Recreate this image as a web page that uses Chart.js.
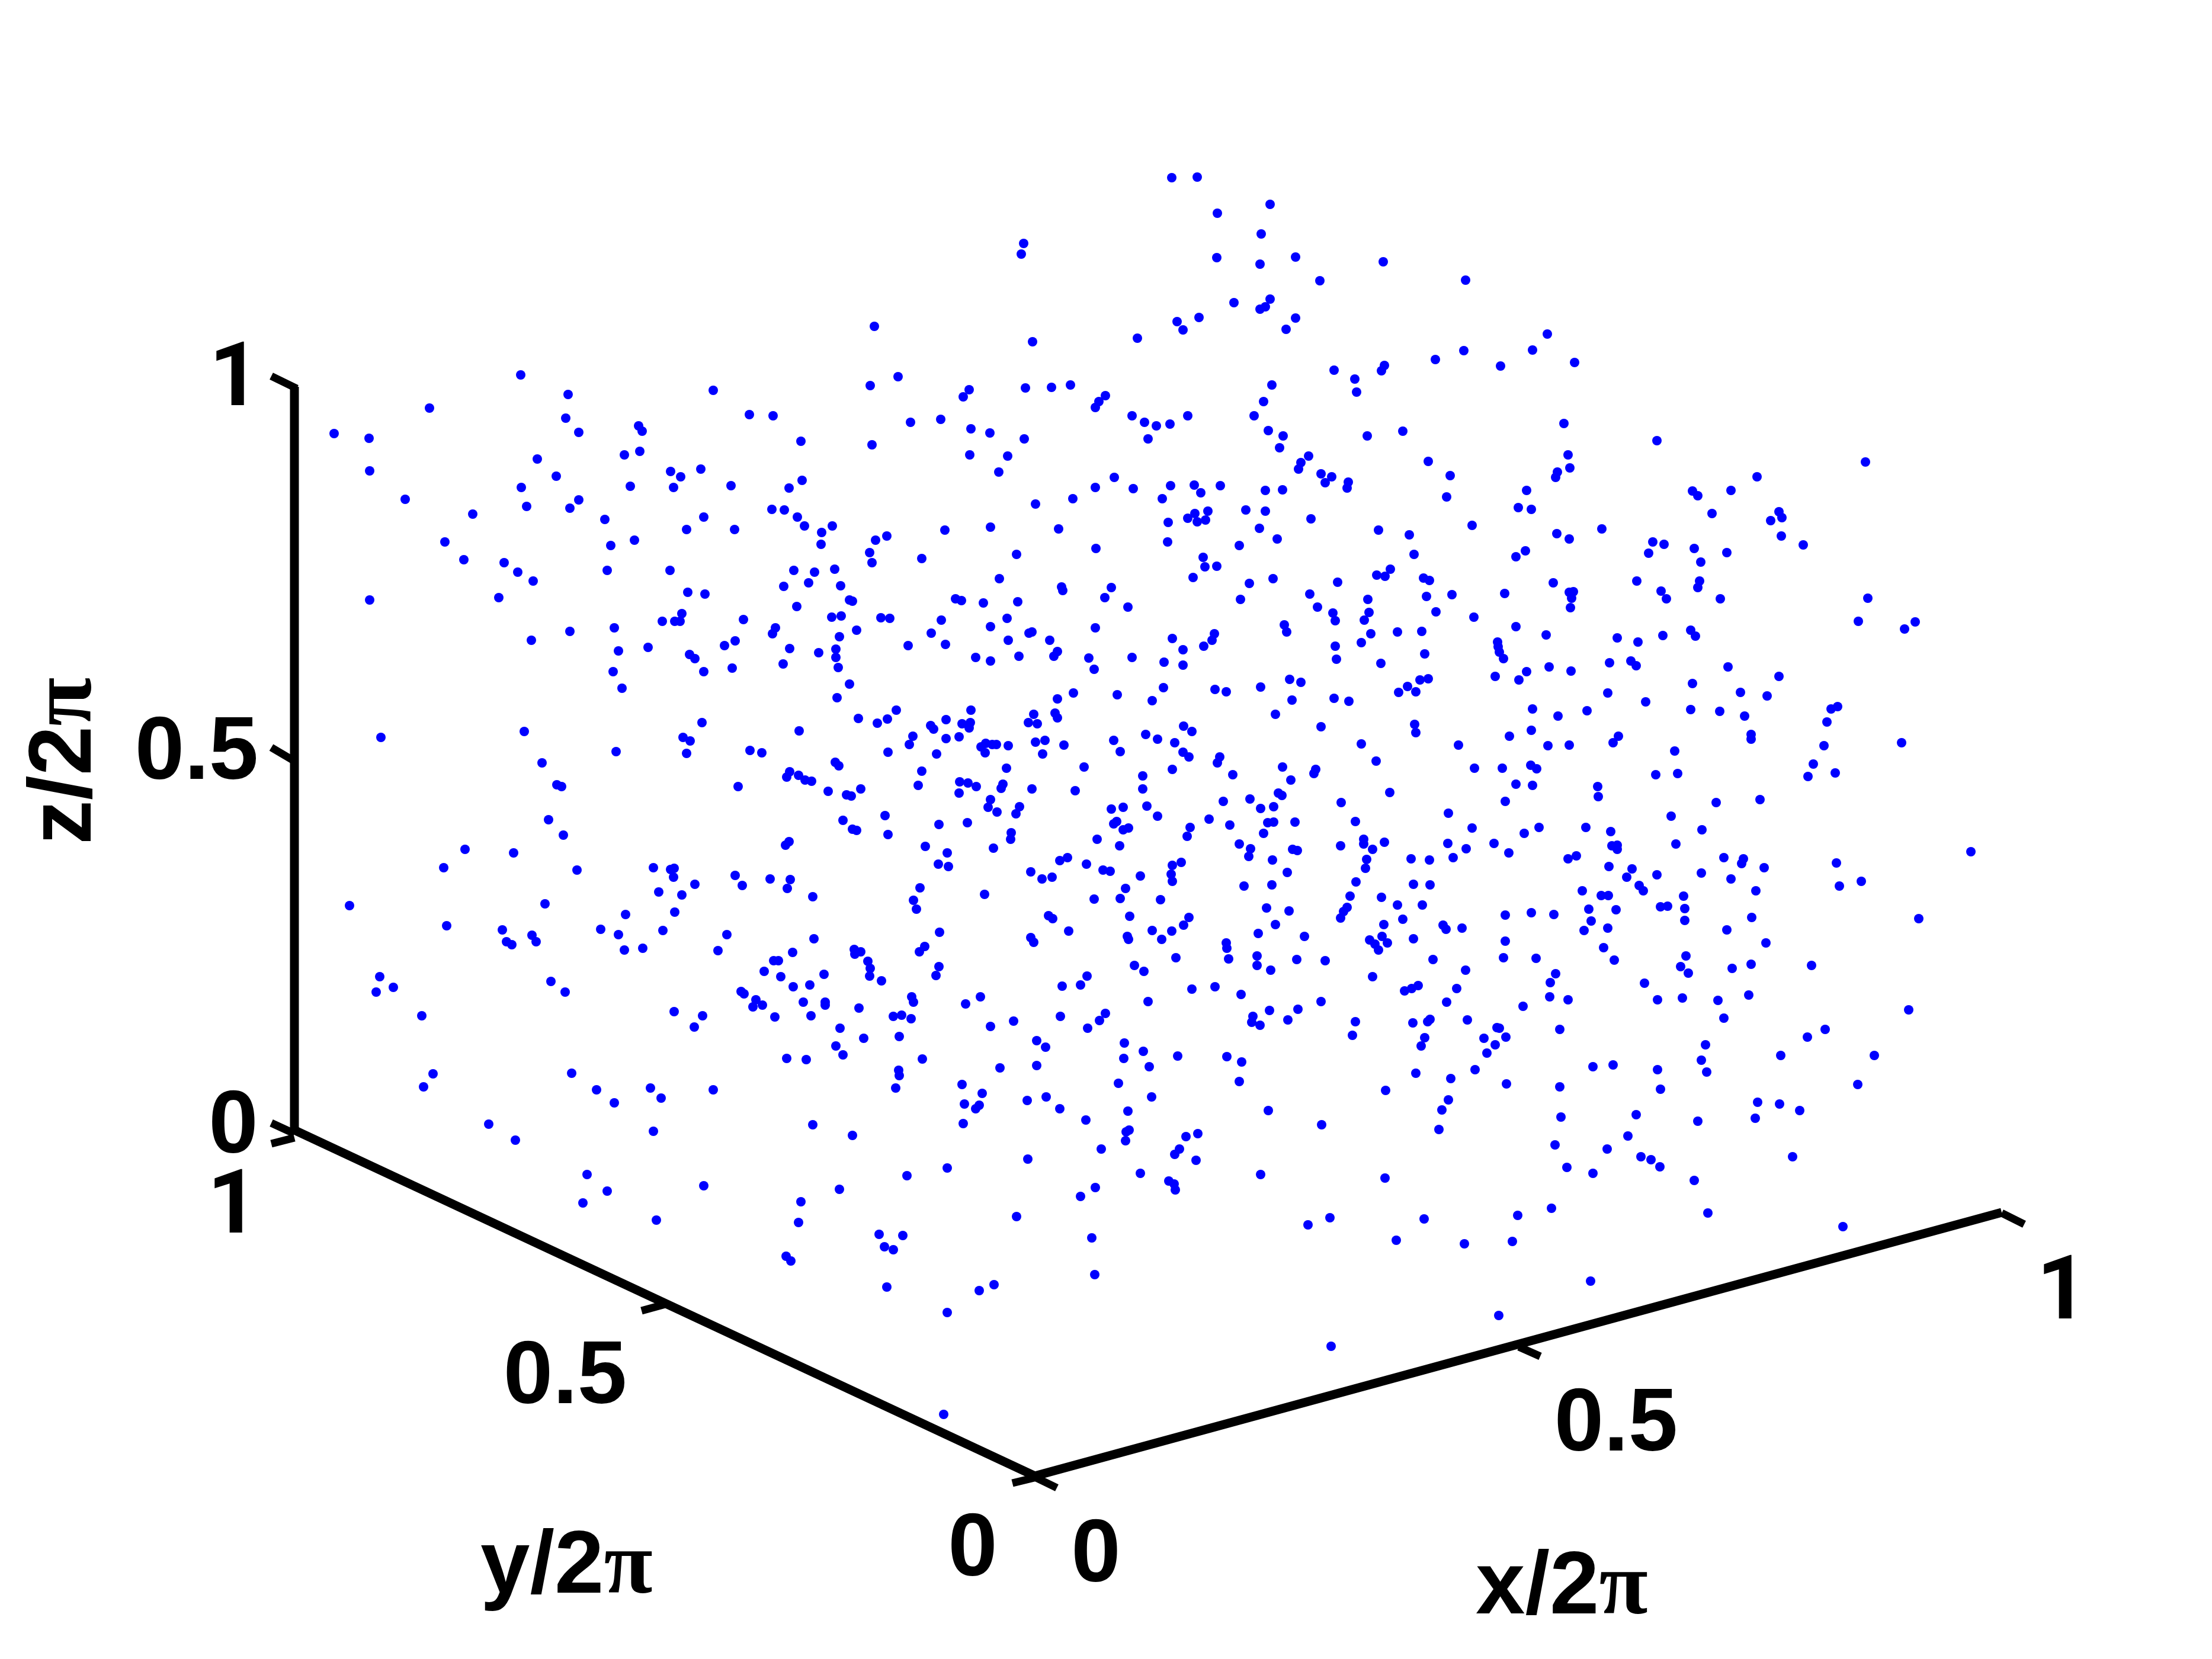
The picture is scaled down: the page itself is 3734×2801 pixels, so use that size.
<!DOCTYPE html>
<html>
<head>
<meta charset="utf-8">
<style>
  html, body { margin: 0; padding: 0; background: #fff; }
  canvas { display: block; }
</style>
<script src="https://cdn.jsdelivr.net/npm/chart.js@4"></script>
</head>
<body>
<canvas id="grafico" width="3734" height="2801"></canvas>
<script>
// Coordenadas de vista da projecao 3D, por regiao
const leftUpper = [[879,633],[959,666],[725,689],[1204,659],[1265,700],[564,732],[623,740],[955,706],[977,730],[1078,719],[1084,728],[907,775],[1054,768],[1080,762],[624,795],[1132,796],[1183,792],[939,804],[1149,805],[880,823],[1064,821],[1137,823],[1234,820],[684,843],[889,855],[977,844],[962,858],[798,868],[1021,877],[1188,873],[1159,894],[1240,894],[751,915],[1071,912],[1031,921],[783,945],[851,950],[874,966],[900,981],[1025,963],[1131,963],[624,1013],[842,1009],[1161,1000],[1190,1003],[1151,1036],[1118,1049],[1139,1049],[1148,1049],[1255,1046],[1037,1060],[962,1066],[897,1081],[1044,1099],[1094,1093],[1164,1105],[1173,1112],[1035,1134],[1188,1134],[1050,1162],[1185,1220],[885,1235],[643,1245],[1153,1245],[1165,1251],[1040,1269],[1159,1272],[915,1288]];

const leftLower = [[940,1325],[948,1328],[926,1384],[951,1410],[785,1434],[867,1440],[749,1465],[974,1469],[1103,1465],[1132,1468],[1138,1466],[1137,1481],[1173,1493],[1112,1506],[1151,1511],[590,1529],[920,1526],[1056,1544],[1139,1540],[754,1563],[848,1570],[898,1579],[905,1590],[855,1590],[864,1595],[1014,1569],[1044,1578],[1119,1571],[1054,1604],[1085,1601],[641,1649],[664,1667],[635,1675],[930,1657],[954,1675],[712,1715],[1138,1708],[1186,1715],[1172,1734],[731,1813],[715,1835],[965,1812],[1007,1840],[1098,1837],[1116,1854],[1037,1862],[825,1898],[870,1925],[1103,1910],[991,1983],[1025,2011],[984,2031],[1188,2002],[1108,2060]];

const midTop = [[1978,300],[2021,299],[2144,345],[2055,360],[2129,395],[1728,411],[1724,429],[2054,435],[2187,434],[2127,446],[2335,442],[2228,474],[2474,473],[2144,505],[2083,511],[2136,518],[2127,522],[2024,536],[2187,537],[1987,543],[1997,557],[2171,556],[1476,551],[1743,577],[1920,571],[2471,592],[2423,607],[2337,617],[2332,626],[2252,625],[2287,640],[1516,636],[1469,651],[2147,650],[1636,658],[1626,670],[1731,655],[1775,654],[1807,650],[1866,668],[1855,678],[1849,688],[2290,662],[2133,678],[1305,702],[1537,713],[1588,708],[1911,702],[1932,713],[1952,719],[1975,716],[2005,702],[2117,702],[1639,724],[1671,731],[2141,727],[2166,736],[2368,728],[2308,736],[1352,745],[1472,751],[1729,741],[1938,741],[2160,756],[1637,768],[1701,770],[2209,770],[2411,779],[2196,781],[2192,792],[1686,797],[2230,800],[2248,805],[2448,803],[1881,806],[1354,811],[2237,815],[2276,814],[2274,824],[1332,824],[1849,823],[1913,825],[1976,820],[2016,819],[2060,820],[2027,832],[2136,828],[2165,827],[2442,839],[1962,842],[1811,842],[1748,851],[1303,860],[1324,861],[2103,861],[2039,863],[2136,863],[2017,867],[1346,873],[2005,875],[2213,876],[1972,882],[2021,881],[2035,878],[1358,888],[1405,888],[1672,890],[1595,895],[1787,893],[2126,892],[2327,895],[2485,887],[1387,899],[1497,905],[1478,912],[2156,910],[2379,903],[1386,919],[1971,915],[2092,921],[1468,933],[1850,926],[1716,936],[2387,936],[1556,943],[1472,950],[2031,941],[2034,957],[2054,956],[1340,963],[1375,966],[1409,961],[2347,961],[2324,971],[2338,973],[2403,976],[2413,980],[2014,975],[1687,977],[1323,990],[1365,984],[1419,989],[2109,985],[2149,977],[2258,983],[1792,991],[1794,997],[1876,992],[2211,1003],[2408,1007],[2451,1004],[1865,1009],[2094,1012],[2309,1012],[1434,1013],[1439,1015],[1613,1011],[1623,1014],[1660,1018],[1718,1016],[1345,1024],[1904,1025],[2224,1025],[2250,1035],[2311,1034],[2424,1033],[1404,1042],[1420,1040],[1487,1043],[1502,1044],[1589,1047],[1700,1044],[2488,1042],[2254,1048],[2303,1047]];

const midCentre = [[1309,1060],[1304,1070],[1241,1082],[1223,1090],[1333,1095],[1236,1128],[1322,1121],[1417,1075],[1446,1064],[1411,1096],[1382,1102],[1411,1110],[1415,1127],[1533,1090],[1572,1069],[1596,1088],[1672,1058],[1702,1081],[1737,1069],[1742,1067],[1772,1081],[1647,1110],[1672,1116],[1720,1108],[1785,1100],[1779,1108],[1849,1060],[1838,1111],[1847,1130],[1911,1110],[1979,1078],[1997,1097],[1965,1118],[1997,1123],[2032,1091],[2046,1081],[2050,1070],[2168,1055],[2172,1067],[2254,1091],[2314,1070],[2298,1085],[2359,1067],[2400,1066],[2256,1113],[2331,1120],[2405,1104],[2177,1147],[2196,1152],[2128,1160],[2051,1164],[2070,1168],[1964,1161],[1886,1173],[1945,1183],[1812,1170],[1785,1180],[1434,1155],[1413,1178],[2181,1182],[2252,1179],[2277,1184],[2361,1169],[2376,1159],[2390,1168],[2397,1148],[2411,1146],[2153,1206],[1513,1199],[1449,1213],[1481,1221],[1498,1214],[1639,1199],[1597,1215],[1571,1225],[1576,1231],[1624,1222],[1638,1220],[1636,1229],[1745,1206],[1736,1220],[1751,1222],[1781,1204],[1785,1212],[1349,1234],[1541,1243],[1535,1257],[1597,1247],[1619,1244],[1998,1226],[2012,1235],[1934,1240],[1954,1248],[1880,1250],[1983,1254],[2230,1227],[2388,1223],[2390,1237],[2298,1256],[2462,1258],[1266,1267],[1286,1271],[1499,1270],[1581,1273],[1656,1261],[1664,1255],[1663,1271],[1675,1257],[1682,1257],[1702,1259],[1748,1253],[1764,1250],[1796,1258],[1760,1273],[1891,1269],[1997,1270],[2007,1278],[2059,1278],[2055,1288],[2323,1285],[1410,1287],[1416,1293],[1699,1297],[1830,1295],[1979,1299],[2165,1295],[2221,1299],[2218,1306],[2489,1297],[1333,1303],[1328,1312],[1348,1309],[1359,1317],[1370,1319],[1556,1302],[1929,1310],[2081,1308],[2179,1317],[1246,1328],[1398,1336],[1453,1332],[1429,1342],[1437,1344],[1550,1326],[1620,1320],[1634,1322],[1648,1328],[1693,1324],[1690,1331],[1742,1332],[1815,1335],[1929,1332],[1619,1339],[2158,1339],[2164,1343],[2346,1338],[1672,1350],[2065,1353],[2110,1349],[2264,1355],[1668,1363],[1721,1362],[1683,1371],[1715,1374],[1876,1366],[1896,1363],[1936,1361],[2128,1365],[2150,1362],[1494,1377],[1954,1378],[2445,1373],[1423,1385],[1585,1392],[1633,1389],[1885,1387],[1880,1391],[2041,1383],[2076,1393],[2140,1389],[2150,1388],[2186,1388],[2288,1387],[1439,1400],[1446,1402],[1896,1401],[1905,1398],[2009,1397],[2133,1407],[2485,1398],[1499,1409],[1707,1406],[1706,1417],[2004,1412],[1852,1417],[1332,1421],[1326,1427],[1562,1429],[1890,1428],[2092,1425],[2302,1417],[2302,1425],[2337,1422],[2444,1424],[1677,1432],[2111,1433],[2182,1434],[2190,1436],[2263,1428],[2317,1434],[2475,1433],[1599,1440],[1802,1448],[1789,1453],[2108,1446],[2148,1452],[2307,1451],[2382,1450],[2413,1452],[2453,1448],[1584,1459],[1601,1463],[1834,1459],[1862,1469],[1874,1471],[1979,1461],[1994,1456],[2305,1466],[1241,1478],[1300,1484],[1334,1485],[1740,1472],[1759,1484],[1776,1481],[1925,1479],[1977,1476],[2173,1473],[1253,1495],[1979,1488],[2147,1494],[2100,1496],[2289,1489],[2386,1493],[2414,1494],[1329,1500],[1553,1499],[1900,1500],[1662,1510],[1372,1514],[1542,1520],[1847,1518],[1891,1517],[1959,1519],[2279,1513],[2332,1515],[2359,1528],[2401,1528],[1547,1535],[2138,1533],[2176,1538],[2274,1532],[2268,1539],[1770,1546],[1777,1551],[1907,1547],[2007,1549],[2263,1550],[2368,1552],[1998,1562],[2153,1561],[2336,1561],[2436,1562],[2441,1569],[2468,1567],[1804,1572],[1945,1571],[1978,1572],[1227,1578],[1586,1574],[2124,1576],[2202,1581],[2333,1581],[1740,1583],[1745,1591],[1903,1581],[1905,1586],[1961,1586],[2386,1585],[1374,1585],[2070,1592],[2071,1601],[2312,1587],[2321,1594],[2342,1592],[2327,1604],[1212,1605],[1338,1608],[1442,1603],[1443,1611],[1453,1607],[1561,1598],[1552,1607],[1985,1617],[2074,1619],[2122,1614],[2189,1620],[2237,1622],[2419,1620],[1306,1622],[1314,1622],[1465,1623],[1469,1635],[1915,1630],[1585,1632],[2122,1630],[1290,1640],[1931,1640],[2145,1638],[2474,1638],[1318,1649],[1391,1645],[1468,1648],[1580,1647],[1835,1648],[2317,1649],[1488,1656],[1339,1666],[1367,1663],[1793,1665],[1824,1663],[2012,1670],[2051,1666],[2394,1664],[2383,1669],[2371,1673],[2459,1669],[1251,1674],[1256,1678],[2095,1679],[1539,1683],[1655,1683],[1276,1688],[1356,1692],[1393,1692],[1542,1692],[1938,1691],[2230,1691],[2442,1692],[1393,1697],[1287,1697],[1271,1700],[1630,1695],[1450,1702],[2143,1706],[2191,1704],[1308,1717],[1369,1715],[1508,1716],[1522,1714],[1538,1720],[1790,1716],[1866,1711],[2115,1716],[2414,1721],[2477,1722],[1711,1724],[1856,1723],[2113,1726],[2174,1722],[2288,1725],[2385,1727],[2410,1725],[2127,1731],[1672,1733],[1418,1736],[1836,1736],[2283,1748],[1518,1750],[1458,1753],[2405,1752],[1750,1757],[1898,1761],[1411,1766],[2399,1766],[1765,1768],[1930,1775],[1423,1781],[1988,1783],[2071,1784],[1328,1787],[1361,1789],[1557,1788],[1897,1787],[2096,1793],[1750,1799],[1940,1801],[1517,1807],[1688,1803],[2490,1806],[1518,1816],[2390,1812],[2449,1821],[1624,1831],[1888,1829],[2092,1826],[1512,1837],[2339,1841],[1204,1840],[1658,1846]];

const midBottom = [[1372,1899],[1439,1917],[1628,1864],[1653,1866],[1647,1872],[1734,1858],[1766,1852],[1789,1872],[1626,1897],[1833,1891],[1904,1876],[1944,1852],[2141,1875],[2231,1899],[2434,1874],[2445,1857],[2429,1907],[1906,1908],[1901,1911],[1900,1926],[2002,1919],[2022,1914],[1859,1940],[1991,1940],[1983,1949],[2019,1959],[1735,1957],[1599,1972],[1531,1985],[1925,1981],[2128,1983],[2338,1989],[1973,1994],[1982,1999],[1984,2009],[1849,2005],[1824,2020],[1417,2008],[1352,2029],[1716,2054],[1348,2064],[2245,2056],[2208,2068],[2404,2058],[1484,2084],[1524,2086],[1843,2090],[2357,2094],[2472,2100],[1493,2105],[1508,2110],[1327,2121],[1335,2129],[1848,2152],[1497,2173],[1678,2169],[1653,2179],[1599,2216],[2247,2273],[1593,2388]];

const rightTop = [[2612,564],[2587,591],[2533,618],[2658,612],[2640,715],[2797,744],[2647,768],[2650,790],[3149,780],[2629,797],[2626,806],[2966,805],[2577,828],[2857,829],[2866,837],[2922,828],[2563,857],[2585,860],[2890,867],[3003,864],[3008,874],[2989,879],[2704,893],[2628,901],[2649,910],[3007,905],[3044,920],[2790,915],[2809,919],[2860,926],[2915,933],[2783,934],[2575,930],[2559,940],[2871,949],[2622,984],[2763,981],[2869,981],[2866,992],[2540,1002],[2649,1000],[2656,999],[2804,998],[2653,1010],[2813,1011],[2904,1011],[3153,1010],[2651,1026],[3137,1049],[3233,1050],[3215,1062],[2559,1058],[2610,1072],[2854,1064],[2862,1074],[2807,1073],[2730,1077],[2765,1084],[2528,1084],[2529,1092],[2531,1101],[2538,1112],[2717,1119],[2753,1116],[2762,1124],[2917,1126],[2615,1126],[2652,1133],[2577,1134],[2524,1142],[2564,1148],[3003,1142],[2857,1154],[2714,1170],[2938,1169],[2983,1175],[2778,1185],[3102,1193],[3091,1197],[2587,1197],[2854,1198],[2903,1201],[2679,1200],[2630,1209],[2945,1209],[3084,1219],[2585,1233],[2956,1240],[2956,1248],[2548,1243],[2732,1243],[2723,1254],[2613,1259],[2649,1258],[3079,1259],[3210,1254],[2827,1268],[3061,1290],[2536,1297],[2584,1292],[2594,1298]];

const rightMid = [[2795,1308],[2832,1306],[3052,1311],[3098,1305],[2559,1324],[2587,1326],[2697,1328],[2698,1345],[2971,1350],[2897,1355],[2541,1353],[2821,1378],[2598,1397],[2677,1397],[2573,1407],[2719,1404],[2873,1401],[2522,1424],[2829,1425],[2721,1428],[2730,1427],[2730,1434],[2547,1440],[3327,1438],[2661,1445],[2647,1450],[2910,1448],[2943,1450],[2940,1458],[3100,1457],[2716,1463],[2755,1467],[2978,1465],[2797,1477],[2872,1474],[2746,1481],[2922,1484],[3142,1488],[2767,1495],[3105,1496],[2774,1504],[2671,1504],[2964,1504],[2703,1512],[2715,1512],[2842,1513],[2803,1531],[2815,1530],[2844,1534],[2682,1535],[2728,1536],[2541,1545],[2585,1541],[2623,1544],[2957,1549],[3239,1551],[2686,1555],[2844,1554],[2714,1567],[2674,1571],[2915,1570],[2541,1589],[2981,1592],[2707,1600],[2846,1614],[2538,1617],[2593,1618],[2725,1621],[2956,1628],[3058,1630],[2837,1632],[2924,1635],[2850,1643],[2626,1644],[2617,1659],[2776,1660],[2616,1683],[2952,1680],[2647,1688],[2798,1688],[2840,1685],[2900,1689],[2571,1699],[3222,1705],[2910,1719],[2527,1735],[2531,1736],[2633,1738],[3081,1738],[2542,1751],[3051,1751],[2505,1753],[2524,1764],[2879,1764],[2510,1778],[3006,1782],[3164,1782],[2872,1790],[2723,1798],[2689,1801],[2798,1806],[2881,1810],[2543,1830],[2633,1835],[3136,1831],[2803,1839],[2967,1861],[3004,1864],[3038,1875],[2635,1886],[2762,1882],[2866,1893],[2963,1888],[2748,1918]];

const rightBottom = [[2625,1933],[2713,1940],[2770,1953],[2787,1958],[2802,1970],[2645,1971],[2689,1981],[2860,1993],[3026,1953],[2883,2048],[2619,2040],[2562,2052],[3111,2071],[2553,2096],[2685,2163],[2530,2221]];

// Eixos da caixa 3D
const zAxisLine = [[497, 653], [497, 1908]];
const yAxisLine = [[497, 1908], [1747, 2492]];
const xAxisLine = [[1747, 2492], [3379, 2047]];

// Tracinhos de escala
const axisTicks = [
  [[458, 635], [501, 656]],
  [[458, 1262], [497, 1285]],
  [[458, 1896], [497, 1914]],
  [[458, 1931], [497, 1921]],
  [[1083, 2213], [1123, 2202]],
  [[1709, 2504], [1750, 2494]],
  [[1747, 2494], [1784, 2512]],
  [[2564, 2274], [2600, 2290]],
  [[3379, 2048], [3417, 2067]]
];

const tickLabels = ['1', '0.5', '0', '1', '0.5', '0', '0', '0.5', '1'];
const tickLabelX = [396, 332, 394, 393, 954, 1642, 1850, 2728, 3481];
const tickLabelY = [684, 1315, 1946, 2081, 2369, 2660, 2670, 2449, 2226];

const axisTitles = ['x/2', 'y/2', 'z/2'];
const axisTitleX = [2491, 811, 153];
const axisTitleY = [2724, 2689, 1426];
const axisTitleAngle = [0, 0, -Math.PI / 2];

const fonteSans = 'bold 150px "Liberation Sans"';
const fonteSerif = 'bold 150px "Liberation Serif"';
// O "1" da figura nao tem pe, como o do Roboto
const fonteUm = 'bold 150px Roboto';

function paraPontos(pares) {
    return pares.map(p => ({ x: p[0], y: p[1] }));
}

function linhaEixo(pares, largura) {
    return {
        data: paraPontos(pares),
        showLine: true,
        borderColor: '#000',
        borderWidth: largura,
        pointRadius: 0,
        clip: false,
        order: 1
    };
}

// Escreve os rotulos e titulos dos eixos na posicao das escalas
const rotulosPlugin = {
    id: 'rotulos',
    afterDraw(chart) {
        const ctx = chart.ctx;
        const sx = chart.scales.x;
        const sy = chart.scales.y;
        ctx.save();
        ctx.fillStyle = '#000';
        ctx.textBaseline = 'alphabetic';

        ctx.textAlign = 'center';
        tickLabels.forEach((t, i) => {
            ctx.font = t === '1' ? fonteUm : fonteSans;
            ctx.fillText(t, sx.getPixelForValue(tickLabelX[i]), sy.getPixelForValue(tickLabelY[i]));
        });

        ctx.textAlign = 'left';
        axisTitles.forEach((t, i) => {
            ctx.save();
            ctx.translate(sx.getPixelForValue(axisTitleX[i]), sy.getPixelForValue(axisTitleY[i]));
            ctx.rotate(axisTitleAngle[i]);
            ctx.font = fonteSans;
            ctx.fillText(t, 0, 0);
            const w = ctx.measureText(t).width;
            ctx.font = fonteSerif;
            ctx.fillText('\u03c0', w, 0);
            ctx.restore();
        });
        ctx.restore();
    }
};

const todosPontos = [].concat(leftUpper, leftLower, midTop, midCentre, midBottom, rightTop, rightMid, rightBottom);

const ctxGrafico = document.getElementById('grafico').getContext('2d');
const grafico = new Chart(ctxGrafico, {
    type: 'scatter',
    data: {
        datasets: [
            {
                data: paraPontos(todosPontos),
                backgroundColor: '#0000ff',
                borderWidth: 0,
                pointRadius: 8,
                order: 0
            },
            linhaEixo(zAxisLine, 15),
            linhaEixo(yAxisLine, 15),
            linhaEixo(xAxisLine, 15)
        ].concat(axisTicks.map(t => linhaEixo(t, 13)))
    },
    options: {
        responsive: false,
        animation: false,
        layout: { padding: 0, autoPadding: false },
        plugins: { legend: { display: false }, tooltip: { enabled: false } },
        scales: {
            x: { type: 'linear', min: 0, max: 3734, display: false },
            y: { type: 'linear', min: 0, max: 2801, reverse: true, display: false }
        }
    },
    plugins: [rotulosPlugin]
});
</script>
</body>
</html>
